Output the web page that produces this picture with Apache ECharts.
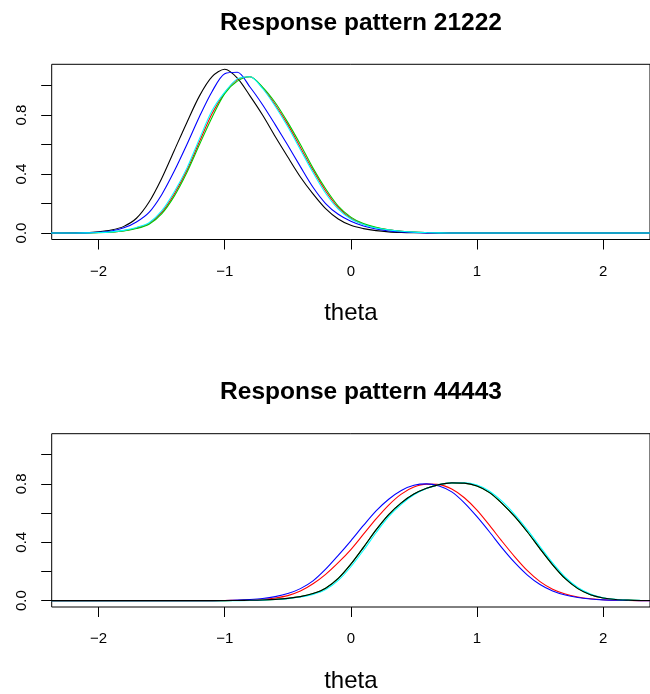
<!DOCTYPE html>
<html>
<head>
<meta charset="utf-8">
<script src="https://cdn.jsdelivr.net/npm/echarts@6/dist/echarts.min.js"></script>
<style>
  html, body { margin: 0; padding: 0; background: #fff; }
  #chart { width: 650px; height: 694px; }
</style>
</head>
<body>
<div id="chart"></div>
<script>
// theta grid
const theta = [
  -2.4, -2.3, -2.2, -2.1, -2.0, -1.9, -1.8, -1.7, -1.6, -1.5,
  -1.4, -1.3, -1.2, -1.1, -1.0, -0.9, -0.8, -0.7, -0.6, -0.5,
  -0.4, -0.3, -0.2, -0.1, 0.0, 0.1, 0.2, 0.3, 0.4, 0.5,
  0.6, 0.7, 0.8, 0.9, 1.0, 1.1, 1.2, 1.3, 1.4, 1.5,
  1.6, 1.7, 1.8, 1.9, 2.0, 2.1, 2.2, 2.3, 2.4
];

const titles = ["Response pattern 21222", "Response pattern 44443"];
const xTickValues = [-2, -1, 0, 1, 2];
const yTickValues = [0, 0.2, 0.4, 0.6, 0.8, 1.0];
const yLabelValues = [0, 0.4, 0.8];

// panel 1: pattern 21222
const topBlack = [
  0, 0, 0.001, 0.002, 0.008, 0.02, 0.045, 0.10, 0.21, 0.37,
  0.56, 0.75, 0.93, 1.06, 1.11, 1.05, 0.93, 0.80, 0.655, 0.515,
  0.38, 0.265, 0.165, 0.095, 0.052, 0.03, 0.016, 0.008, 0.004, 0.002,
  0.001, 0, 0, 0, 0, 0, 0, 0, 0, 0,
  0, 0, 0, 0, 0, 0, 0, 0, 0
];
const topRed = [
  0, 0, 0, 0.001, 0.003, 0.007, 0.016, 0.034, 0.065, 0.14,
  0.265, 0.425, 0.62, 0.81, 0.95, 1.04, 1.06, 0.985, 0.87, 0.735,
  0.58, 0.425, 0.285, 0.172, 0.10, 0.06, 0.036, 0.021, 0.012, 0.006,
  0.003, 0.001, 0, 0, 0, 0, 0, 0, 0, 0,
  0, 0, 0, 0, 0, 0, 0, 0, 0
];
const topGreen = [
  0, 0, 0, 0.001, 0.002, 0.006, 0.014, 0.03, 0.06, 0.13,
  0.25, 0.41, 0.60, 0.785, 0.945, 1.03, 1.06, 0.99, 0.885, 0.75,
  0.60, 0.44, 0.30, 0.183, 0.108, 0.064, 0.038, 0.022, 0.012, 0.006,
  0.003, 0.001, 0, 0, 0, 0, 0, 0, 0, 0,
  0, 0, 0, 0, 0, 0, 0, 0, 0
];
const topBlue = [
  0, 0, 0, 0.001, 0.005, 0.014, 0.035, 0.075, 0.14, 0.26,
  0.42, 0.60, 0.79, 0.96, 1.08, 1.09, 0.99, 0.87, 0.735, 0.595,
  0.45, 0.31, 0.20, 0.127, 0.08, 0.048, 0.027, 0.014, 0.007, 0.003,
  0.001, 0, 0, 0, 0, 0, 0, 0, 0, 0,
  0, 0, 0, 0, 0, 0, 0, 0, 0
];
const topCyan = [
  0, 0, 0, 0.001, 0.003, 0.008, 0.018, 0.038, 0.07, 0.15,
  0.28, 0.44, 0.64, 0.83, 0.955, 1.045, 1.06, 0.98, 0.86, 0.72,
  0.565, 0.41, 0.27, 0.162, 0.095, 0.058, 0.034, 0.021, 0.012, 0.006,
  0.003, 0.001, 0, 0, 0, 0, 0, 0, 0, 0,
  0, 0, 0, 0, 0, 0, 0, 0, 0
];

// panel 2: pattern 44443
const botBlack = [
  0, 0, 0, 0, 0, 0, 0, 0, 0, 0,
  0, 0, 0, 0, 0, 0.001, 0.002, 0.004, 0.008, 0.015,
  0.027, 0.048, 0.085, 0.152, 0.25, 0.365, 0.485, 0.59, 0.67, 0.73,
  0.77, 0.795, 0.807, 0.805, 0.785, 0.74, 0.665, 0.575, 0.47, 0.355,
  0.245, 0.15, 0.082, 0.04, 0.018, 0.007, 0.003, 0.001, 0
];
const botRed = [
  0, 0, 0, 0, 0, 0, 0, 0, 0, 0,
  0, 0, 0, 0, 0.001, 0.002, 0.004, 0.009, 0.018, 0.034,
  0.065, 0.115, 0.18, 0.26, 0.35, 0.455, 0.56, 0.655, 0.73, 0.778,
  0.798, 0.795, 0.765, 0.705, 0.62, 0.515, 0.405, 0.30, 0.205, 0.13,
  0.078, 0.045, 0.025, 0.013, 0.006, 0.003, 0.001, 0, 0
];
const botGreen = [
  0, 0, 0, 0, 0, 0, 0, 0, 0, 0,
  0, 0, 0, 0, 0, 0.001, 0.002, 0.004, 0.008, 0.015,
  0.027, 0.048, 0.085, 0.152, 0.25, 0.365, 0.485, 0.59, 0.67, 0.73,
  0.77, 0.795, 0.807, 0.805, 0.785, 0.74, 0.665, 0.575, 0.47, 0.355,
  0.245, 0.15, 0.082, 0.04, 0.018, 0.007, 0.003, 0.001, 0
];
const botBlue = [
  0, 0, 0, 0, 0, 0, 0, 0, 0, 0,
  0, 0, 0, 0, 0.001, 0.003, 0.007, 0.014, 0.027, 0.048,
  0.082, 0.135, 0.215, 0.31, 0.41, 0.515, 0.615, 0.695, 0.755, 0.79,
  0.80, 0.785, 0.745, 0.67, 0.575, 0.47, 0.36, 0.26, 0.175, 0.11,
  0.066, 0.038, 0.021, 0.011, 0.005, 0.002, 0.001, 0, 0
];
const botCyan = [
  0, 0, 0, 0, 0, 0, 0, 0, 0, 0,
  0, 0, 0, 0, 0, 0, 0.001, 0.003, 0.007, 0.013,
  0.024, 0.042, 0.075, 0.138, 0.232, 0.345, 0.465, 0.575, 0.66, 0.725,
  0.768, 0.795, 0.807, 0.808, 0.792, 0.75, 0.68, 0.59, 0.485, 0.37,
  0.258, 0.16, 0.09, 0.045, 0.02, 0.008, 0.003, 0.001, 0
];

const colors = {
  black: "#000000",
  red: "#FF0000",
  green: "#00CD00",
  blue: "#0000FF",
  cyan: "#00FFFF",
};

const FONT = "'Liberation Sans', Arial, Helvetica, sans-serif";
const PANEL_TOP = [64.3, 433.7];
const PANEL_H = 175.2;

const pair = (ys) => theta.map((t, i) => [t, ys[i]]);

const makeLine = (name, color, ys, idx) => ({
  name: name,
  type: "line",
  xAxisIndex: idx,
  yAxisIndex: idx,
  data: pair(ys),
  showSymbol: false,
  smooth: 0.3,
  clip: true,
  lineStyle: { color: color, width: 1.1 },
  silent: true,
});

const makeXAxis = (idx) => ({
  type: "value",
  gridIndex: idx,
  position: "bottom",
  min: -2.372,
  max: 2.372,
  name: "theta",
  nameLocation: "middle",
  nameGap: 62,
  nameTextStyle: { color: "#000", fontSize: 24, fontFamily: FONT },
  axisLine: { show: false, onZero: false },
  splitLine: { show: false },
  axisTick: {
    show: true,
    length: 10,
    customValues: xTickValues,
    lineStyle: { color: "#000", width: 1 },
  },
  axisLabel: {
    show: true,
    customValues: xTickValues,
    margin: 24.5,
    color: "#000",
    fontSize: 15,
    fontFamily: FONT,
    formatter: (v) => String(v).replace("-", "\u2212"),
  },
});

const makeYAxis = (idx) => ({
  type: "value",
  gridIndex: idx,
  position: "left",
  min: -0.044,
  max: 1.144,
  axisLine: { show: false, onZero: false },
  splitLine: { show: false },
  axisTick: {
    show: true,
    length: 10.5,
    customValues: yTickValues,
    lineStyle: { color: "#000", width: 1 },
  },
  axisLabel: {
    show: true,
    customValues: yLabelValues,
    rotate: 90,
    margin: 22.5,
    color: "#000",
    fontSize: 15,
    fontFamily: FONT,
    formatter: (v) => v.toFixed(1),
  },
});

const chart = echarts.init(document.getElementById("chart"), null, {
  renderer: "canvas",
});

chart.setOption({
  animation: false,
  backgroundColor: "#fff",
  title: titles.map((t, i) => ({
    text: t,
    left: 356,
    top: PANEL_TOP[i] - 58.5,
    textAlign: "center",
    textStyle: {
      color: "#000",
      fontSize: 24.5,
      fontWeight: "bold",
      fontFamily: FONT,
    },
  })),
  grid: PANEL_TOP.map((top) => ({
    left: 51.7,
    right: -9.3,
    top: top,
    height: PANEL_H,
    show: true,
    borderColor: "#000",
    borderWidth: 1,
    backgroundColor: "transparent",
    containLabel: false,
  })),
  xAxis: [makeXAxis(0), makeXAxis(1)],
  yAxis: [makeYAxis(0), makeYAxis(1)],
  series: [
    makeLine("black", colors.black, topBlack, 0),
    makeLine("red", colors.red, topRed, 0),
    makeLine("green", colors.green, topGreen, 0),
    makeLine("blue", colors.blue, topBlue, 0),
    makeLine("cyan", colors.cyan, topCyan, 0),
    makeLine("green", colors.green, botGreen, 1),
    makeLine("red", colors.red, botRed, 1),
    makeLine("blue", colors.blue, botBlue, 1),
    makeLine("cyan", colors.cyan, botCyan, 1),
    makeLine("black", colors.black, botBlack, 1),
  ],
});
</script>
</body>
</html>
